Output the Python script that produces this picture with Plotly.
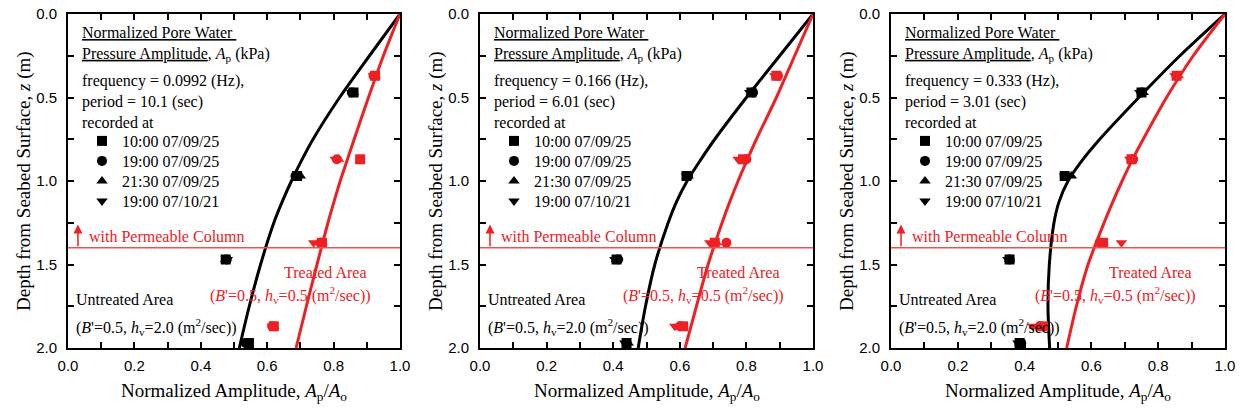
import plotly.graph_objects as go

W, H = 1243, 416
SERIF = "Liberation Serif"
SANS = "Liberation Sans"
RED = "rgb(237,32,36)"
BLACK = "black"

# ---------------- data ----------------
depth_curve = [0.0, 0.25, 0.5, 0.75, 0.875, 1.0, 1.125, 1.25, 1.5, 1.75, 2.0]
untreated_curve_p1 = [1.0, 0.908, 0.818, 0.738, 0.704, 0.673, 0.645, 0.62, 0.58, 0.546, 0.516]
treated_curve_p1 = [1.0, 0.95, 0.905, 0.862, 0.841, 0.82, 0.801, 0.783, 0.75, 0.718, 0.687]
untreated_curve_p2 = [1.0, 0.9, 0.80, 0.705, 0.662, 0.622, 0.59, 0.565, 0.525, 0.497, 0.475]
treated_curve_p2 = [1.0, 0.945, 0.89, 0.83, 0.802, 0.775, 0.75, 0.727, 0.685, 0.65, 0.616]
untreated_curve_p3 = [1.0, 0.865, 0.742, 0.625, 0.573, 0.53, 0.503, 0.488, 0.474, 0.47, 0.475]
treated_curve_p3 = [1.0, 0.905, 0.825, 0.755, 0.722, 0.692, 0.664, 0.638, 0.59, 0.555, 0.526]

depth_untreated = [0.47, 0.97, 1.47, 1.97]
depth_treated = [0.37, 0.87, 1.37, 1.87]

record_times = ["10:00 07/09/25", "19:00 07/09/25", "21:30 07/09/25", "19:00 07/10/21"]
frequencies = ["0.0992", "0.166", "0.333"]
periods = ["10.1", "6.01", "3.01"]

# measured amplitudes, one row per record time (square, circle, triangle-up, triangle-down)
untreated_p1 = [[0.86, 0.69, 0.475, 0.545],
                [0.855, 0.685, 0.478, 0.535],
                [0.86, 0.70, 0.475, 0.54],
                [0.855, 0.69, 0.48, 0.535]]
treated_p1 = [[0.925, 0.88, 0.765, 0.62],
              [0.92, 0.81, 0.76, 0.615],
              [0.925, 0.815, 0.765, 0.62],
              [0.92, 0.805, 0.74, 0.615]]
untreated_p2 = [[0.815, 0.62, 0.41, 0.44],
                [0.82, 0.625, 0.415, 0.44],
                [0.815, 0.625, 0.41, 0.445],
                [0.81, 0.62, 0.405, 0.435]]
treated_p2 = [[0.89, 0.79, 0.705, 0.61],
              [0.895, 0.80, 0.74, 0.60],
              [0.89, 0.795, 0.71, 0.605],
              [0.885, 0.775, 0.69, 0.585]]
untreated_p3 = [[0.75, 0.52, 0.355, 0.385],
                [0.75, 0.52, 0.355, 0.39],
                [0.755, 0.54, 0.355, 0.385],
                [0.745, 0.52, 0.35, 0.38]]
treated_p3 = [[0.855, 0.72, 0.635, 0.455],
              [0.855, 0.725, 0.625, 0.445],
              [0.86, 0.72, 0.63, 0.45],
              [0.85, 0.715, 0.69, 0.425]]

COLUMN_DEPTH = 1.4
symbols = ["square", "circle", "triangle-up", "triangle-down"]

panels = [
    (untreated_curve_p1, treated_curve_p1, untreated_p1, treated_p1),
    (untreated_curve_p2, treated_curve_p2, untreated_p2, treated_p2),
    (untreated_curve_p3, treated_curve_p3, untreated_p3, treated_p3),
]

# ---------------- layout geometry (pixels) ----------------
panel_left = [68, 480, 891]
panel_right = [400, 813, 1225]
plot_top, plot_bottom = 14, 348
legend_first_top, legend_step = 124, 20

fig = go.Figure()
annotations = []
shapes = []
layout_updates = {}

for i, (uc, tc, um, tm) in enumerate(panels):
    n = "" if i == 0 else str(i + 1)
    xa, ya = "x" + n, "y" + n
    # curves
    fig.add_trace(go.Scatter(x=uc, y=depth_curve, mode="lines", xaxis=xa, yaxis=ya,
                             line=dict(color=BLACK, width=3, shape="spline", smoothing=0.8),
                             showlegend=False, hoverinfo="skip"))
    fig.add_trace(go.Scatter(x=tc, y=depth_curve, mode="lines", xaxis=xa, yaxis=ya,
                             line=dict(color=RED, width=3, shape="spline", smoothing=0.8),
                             showlegend=False, hoverinfo="skip"))
    # measured points
    for k in range(4):
        fig.add_trace(go.Scatter(x=tm[k], y=depth_treated, mode="markers", xaxis=xa, yaxis=ya,
                                 marker=dict(symbol=symbols[k], size=10, color=RED),
                                 showlegend=False))
    for k in range(4):
        idx = i * 4 + k + 1
        leg = "legend" if idx == 1 else f"legend{idx}"
        fig.add_trace(go.Scatter(x=um[k], y=depth_untreated, mode="markers", xaxis=xa, yaxis=ya,
                                 marker=dict(symbol=symbols[k], size=10, color=BLACK),
                                 name=record_times[k], legend=leg, showlegend=True))
        layout_updates[leg] = dict(x=(panel_left[i] + 14) / W,
                                   y=1 - (legend_first_top + k * legend_step) / H,
                                   xanchor="left", yanchor="top",
                                   bgcolor="rgba(0,0,0,0)", borderwidth=0,
                                   font=dict(family=SERIF, size=16, color=BLACK))

    dom = [panel_left[i] / W, panel_right[i] / W]
    axis_common = dict(showline=True, linewidth=2, linecolor=BLACK, mirror="ticks",
                       ticks="inside", ticklen=6, tickwidth=1.5, tickcolor=BLACK,
                       showgrid=False, zeroline=False, automargin=False,
                       tickfont=dict(family=SANS, size=15, color=BLACK))
    layout_updates["xaxis" + n] = dict(domain=dom, range=[0, 1], dtick=0.2, tickformat=".1f",
                                       minor=dict(dtick=0.1, ticks="inside", ticklen=6, tickwidth=1.5,
                                                  tickcolor=BLACK, showgrid=False),
                                       anchor=ya, ticklabelstandoff=3, **axis_common)
    layout_updates["yaxis" + n] = dict(domain=[1 - plot_bottom / H, 1 - plot_top / H], range=[2, 0],
                                       dtick=0.5, tickformat=".1f",
                                       minor=dict(dtick=0.25, ticks="inside", ticklen=6, tickwidth=1.5,
                                                  tickcolor=BLACK, showgrid=False),
                                       anchor=xa, ticklabelstandoff=6, **axis_common)

    # column line
    shapes.append(dict(type="line", xref=xa + " domain", yref=ya, x0=0, x1=1,
                       y0=COLUMN_DEPTH, y1=COLUMN_DEPTH,
                       line=dict(color="rgb(240,80,80)", width=1.5)))

    xd = xa + " domain"
    # header texts
    annotations.append(dict(xref=xd, yref="paper", x=0.035, y=1 - 43.5 / H,
                            xanchor="left", yanchor="middle", align="left", showarrow=False,
                            text="<u>Normalized Pore Water </u><br><u>Pressure Amplitude</u>, <i>A</i><sub>p</sub> (kPa)",
                            font=dict(family=SERIF, size=16, color=BLACK)))
    annotations.append(dict(xref=xd, yref="paper", x=0.035, y=1 - 101 / H,
                            xanchor="left", yanchor="middle", align="left", showarrow=False,
                            text=f"frequency = {frequencies[i]} (Hz),<br>period = {periods[i]} (sec)<br>recorded at",
                            font=dict(family=SERIF, size=16, color=BLACK)))
    # permeable column
    annotations.append(dict(xref=xa, yref=ya, x=0.057, y=1.335, xanchor="left", yanchor="middle",
                            showarrow=False, text="with Permeable Column",
                            font=dict(family=SERIF, size=16, color=RED)))
    annotations.append(dict(xref=xa, yref=ya, x=0.03, y=1.26, ax=0.03, ay=COLUMN_DEPTH,
                            axref=xa, ayref=ya, text="", showarrow=True, arrowhead=2,
                            arrowsize=1.2, arrowwidth=1.5, arrowcolor=RED))
    # treated / untreated labels
    annotations.append(dict(xref=xa, yref=ya, x=0.908, y=1.545, xanchor="right", yanchor="middle",
                            showarrow=False, text="Treated Area",
                            font=dict(family=SERIF, size=16, color=RED)))
    annotations.append(dict(xref=xa, yref=ya, x=0.918, y=1.685, xanchor="right", yanchor="middle",
                            showarrow=False,
                            text="(<i>B</i>'=0.5, <i>h</i><sub>v</sub>=0.5 (m<sup>2</sup>/sec))",
                            font=dict(family=SERIF, size=16, color=RED)))
    annotations.append(dict(xref=xa, yref=ya, x=0.018, y=1.71, xanchor="left", yanchor="middle",
                            showarrow=False, text="Untreated Area",
                            font=dict(family=SERIF, size=16, color=BLACK)))
    annotations.append(dict(xref=xa, yref=ya, x=0.018, y=1.875, xanchor="left", yanchor="middle",
                            showarrow=False,
                            text="(<i>B</i>'=0.5, <i>h</i><sub>v</sub>=2.0 (m<sup>2</sup>/sec))",
                            font=dict(family=SERIF, size=16, color=BLACK)))
    # axis titles
    annotations.append(dict(xref="paper", yref="paper",
                            x=(panel_left[i] + panel_right[i]) / 2 / W, y=1 - 392 / H,
                            xanchor="center", yanchor="middle", showarrow=False,
                            text="Normalized Amplitude, <i>A</i><sub>p</sub>/<i>A</i><sub>o</sub>",
                            font=dict(family=SERIF, size=19, color=BLACK)))
    annotations.append(dict(xref="paper", yref="paper",
                            x=(panel_left[i] - 44) / W, y=1 - (plot_top + plot_bottom) / 2 / H,
                            xanchor="center", yanchor="middle", showarrow=False, textangle=-90,
                            text="Depth from Seabed Surface, <i>z</i> (m)",
                            font=dict(family=SERIF, size=19, color=BLACK)))

fig.update_layout(width=W, height=H, margin=dict(l=0, r=0, t=0, b=0),
                  paper_bgcolor="white", plot_bgcolor="white",
                  annotations=annotations, shapes=shapes, **layout_updates)

fig.write_html("out.html", config={"displayModeBar": False},
               post_script="document.body.style.margin='0px';")
